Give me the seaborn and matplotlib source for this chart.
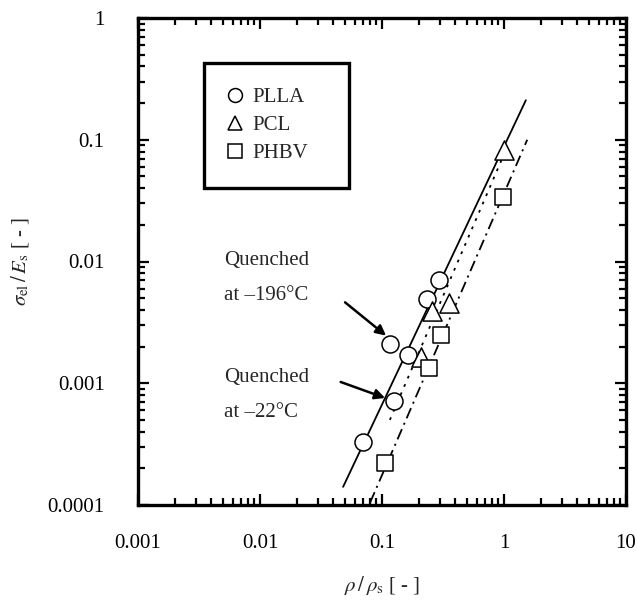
import numpy as np
import pandas as pd
import matplotlib
matplotlib.use("Agg")
import matplotlib.pyplot as plt
import seaborn as sns
from matplotlib.ticker import FixedLocator, FixedFormatter, LogLocator, NullFormatter
from matplotlib.lines import Line2D

# ---- data ----
plla_x = [0.070, 0.125, 0.116, 0.164, 0.232, 0.295]
plla_y = [0.00033, 0.00072, 0.0021, 0.0017, 0.0049, 0.0070]
pcl_x = [0.207, 0.255, 0.356, 1.0]
pcl_y = [0.00164, 0.0039, 0.0046, 0.082]
phbv_x = [0.106, 0.241, 0.306, 0.975]
phbv_y = [0.00022, 0.00134, 0.00249, 0.0337]

fit_plla_x = [0.048, 1.51]
fit_plla_y = [0.000141, 0.211]
fit_pcl_x = [0.116, 1.0]
fit_pcl_y = [0.0005, 0.076]
fit_phbv_x = [0.080, 1.55]
fit_phbv_y = [0.000105, 0.100]

x_ticks = [0.001, 0.01, 0.1, 1, 10]
x_tick_labels = ["0.001", "0.01", "0.1", "1", "10"]
y_ticks = [0.0001, 0.001, 0.01, 0.1, 1]
y_tick_labels = ["0.0001", "0.001", "0.01", "0.1", "1"]

sns.set_style("ticks")
plt.rcParams["font.family"] = ["Liberation Serif", "DejaVu Serif"]
plt.rcParams["mathtext.fontset"] = "stix"
plt.rcParams["lines.scale_dashes"] = False

fig = plt.figure(figsize=(6.37, 6.01), dpi=100)
ax = fig.add_axes([138 / 637, 96 / 601, 488 / 637, 487 / 601])

fs = 15
# fit lines
sns.lineplot(x=fit_plla_x, y=fit_plla_y, ax=ax, color="black", lw=1.3,
             linestyle="-", estimator=None, sort=False)
sns.lineplot(x=fit_pcl_x, y=fit_pcl_y, ax=ax, color="black", lw=1.3,
             linestyle=(0, (2.0, 4.5)), estimator=None, sort=False)
sns.lineplot(x=fit_phbv_x, y=fit_phbv_y, ax=ax, color="black", lw=1.3,
             linestyle=(0, (8, 3.5, 1.5, 3.5)), estimator=None, sort=False)

# markers
sns.scatterplot(x=plla_x, y=plla_y, ax=ax, marker="o", s=150,
                facecolor="white", edgecolor="black", linewidth=1.1, zorder=5)
sns.scatterplot(x=pcl_x, y=pcl_y, ax=ax, marker="^", s=190,
                facecolor="white", edgecolor="black", linewidth=1.1, zorder=5)
sns.scatterplot(x=phbv_x, y=phbv_y, ax=ax, marker="s", s=140,
                facecolor="white", edgecolor="black", linewidth=1.1, zorder=5)

ax.set_xscale("log")
ax.set_yscale("log")
ax.set_xlim(0.001, 10)
ax.set_ylim(0.0001, 1)
ax.xaxis.set_major_locator(FixedLocator(x_ticks))
ax.xaxis.set_major_formatter(FixedFormatter(x_tick_labels))
ax.yaxis.set_major_locator(FixedLocator(y_ticks))
ax.yaxis.set_major_formatter(FixedFormatter(y_tick_labels))
ax.xaxis.set_minor_locator(LogLocator(base=10, subs=np.arange(2, 10), numticks=20))
ax.yaxis.set_minor_locator(LogLocator(base=10, subs=np.arange(2, 10), numticks=20))
ax.xaxis.set_minor_formatter(NullFormatter())
ax.yaxis.set_minor_formatter(NullFormatter())
ax.tick_params(which="both", direction="in", top=True, right=True, width=1.6,
               labelsize=fs, color="black", labelcolor="black")
ax.tick_params(which="major", length=8)
ax.tick_params(which="minor", length=5)
ax.tick_params(axis="x", which="major", pad=21)
ax.tick_params(axis="y", which="major", pad=24)
for sp in ax.spines.values():
    sp.set_linewidth(2.4)
    sp.set_color("black")

ax.set_xlabel(r"$\rho\,/\,\rho_{\rm s}$ [ - ]", fontsize=fs, labelpad=15)
ax.set_ylabel(r"$\sigma_{\rm el}\,/\,E_{\rm s}$ [ - ]", fontsize=fs, labelpad=12)

# legend
handles = [
    Line2D([], [], marker="o", ls="", ms=10, mfc="white", mec="black", mew=1.1),
    Line2D([], [], marker="^", ls="", ms=10.5, mfc="white", mec="black", mew=1.1),
    Line2D([], [], marker="s", ls="", ms=9.5, mfc="white", mec="black", mew=1.1),
]
leg = ax.legend(handles, ["PLLA", "PCL", "PHBV"], loc="upper left",
                bbox_to_anchor=(0.135, 0.651, 0.297, 0.257), mode="expand",
                fontsize=fs, frameon=True, fancybox=False, borderpad=1.2,
                labelspacing=0.4, handlelength=0.6, handletextpad=0.55,
                borderaxespad=0)
leg.get_frame().set_edgecolor("black")
leg.get_frame().set_linewidth(2.4)
leg.get_frame().set_alpha(1)

# annotations
ax.text(0.176, 0.503, "Quenched", transform=ax.transAxes, fontsize=fs, va="center", ha="left")
ax.text(0.176, 0.431, "at \u2013196\u00b0C", transform=ax.transAxes, fontsize=fs, va="center", ha="left")
ax.text(0.176, 0.261, "Quenched", transform=ax.transAxes, fontsize=fs, va="center", ha="left")
ax.text(0.176, 0.189, "at \u201322\u00b0C", transform=ax.transAxes, fontsize=fs, va="center", ha="left")
ap = dict(arrowstyle="-|>", lw=1.8, color="black", mutation_scale=15, shrinkA=0, shrinkB=0)
ax.annotate("", xy=(0.108, 0.00246), xytext=(0.0498, 0.00462), arrowprops=ap)
ax.annotate("", xy=(0.106, 0.000757), xytext=(0.0458, 0.001025), arrowprops=ap)

fig.savefig("out.png", dpi=100)
